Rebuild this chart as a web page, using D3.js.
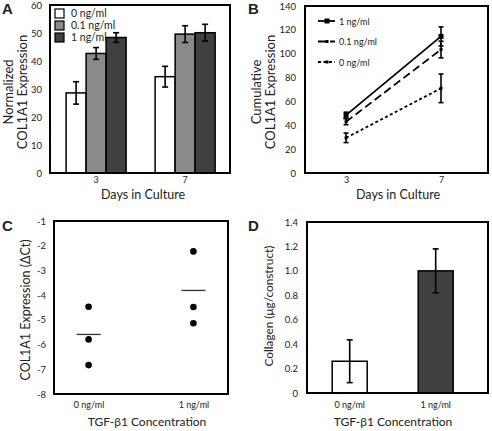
<!DOCTYPE html>
<html><head><meta charset="utf-8">
<script src="https://cdn.jsdelivr.net/npm/d3@7"></script>
<style>body{margin:0;background:#fff}svg{display:block}text{font-family:Lato,"Open Sans",sans-serif;fill:#222}</style>
</head><body><svg id="c" width="492" height="431"></svg>
<script>
// Panel A
const aDays=["3","7"];
const aSeries=["0 ng/ml","0.1 ng/ml","1 ng/ml"];
const aValues=[[28.6,42.7,48.4],[34.4,49.6,50.1]];
const aErrors=[[4.0,2.1,1.7],[3.7,3.0,3.0]];
const aTicks=[0,10,20,30,40,50,60];
// Panel B
const bDays=[3,7];
const bSeries=["1 ng/ml","0.1 ng/ml","0 ng/ml"];
const bValues=[[48.5,114.5],[43,103.5],[29.5,71]];
const bErrors=[[2.5,8],[2.5,7],[4,12]];
const bTicks=[0,20,40,60,80,100,120,140];
// Panel C
const cGroups=["0 ng/ml","1 ng/ml"];
const cPoints=[[-4.47,-5.79,-6.83],[-2.23,-4.48,-5.14]];
const cMeans=[-5.59,-3.81];
const cTicks=[-8,-7,-6,-5,-4,-3,-2,-1];
// Panel D
const dGroups=["0 ng/ml","1 ng/ml"];
const dValues=[0.26,1.0];
const dErrors=[0.175,0.18];
const dTicks=["0","0.2","0.4","0.6","0.8","1.0","1.2","1.4"];

const colors=["#ffffff","#8a8a8a","#404040"];
const svg=d3.select("#c");
const fs=9.5;

function frame(x0,x1,y0,y1){svg.append("rect").attr("x",x0).attr("y",y0).attr("width",x1-x0).attr("height",y1-y0).attr("fill","none").attr("stroke","#000").attr("stroke-width",2);}
function yAxis(scale,ticks,x,fmt){
  const g=svg.append("g").attr("transform",`translate(${x},0)`).call(d3.axisLeft(scale).tickValues(ticks).tickSize(0).tickPadding(4).tickFormat(fmt||(d=>d)));
  g.select(".domain").remove();
  g.selectAll("text").attr("font-size",fs).attr("font-family","Lato,sans-serif").attr("fill","#333");
}
function xAxis(scale,y,fmt,size,pad){
  const g=svg.append("g").attr("transform",`translate(0,${y})`).call(d3.axisBottom(scale).tickSize(0).tickPadding(pad||4).tickFormat(fmt||(d=>d)));
  g.select(".domain").remove();
  g.selectAll("text").attr("font-size",size||9).attr("font-family","Lato,sans-serif").attr("fill","#333");
}
function label(t,x,y,rot,size){svg.append("text").attr("transform",`translate(${x},${y})${rot?" rotate(-90)":""}`).attr("text-anchor","middle").attr("font-size",size||13).text(t);}
function letter(t,x,y){svg.append("text").attr("x",x).attr("y",y).style("font-family","'Liberation Sans',Arial,sans-serif").attr("font-weight","bold").attr("font-size",15).attr("fill","#000").text(t);}
function errbar(x,yTop,yBot,cap){
  svg.append("line").attr("x1",x).attr("x2",x).attr("y1",yTop).attr("y2",yBot).attr("stroke","#000").attr("stroke-width",1.6);
  [yTop,yBot].forEach(y=>svg.append("line").attr("x1",x-cap).attr("x2",x+cap).attr("y1",y).attr("y2",y).attr("stroke","#000").attr("stroke-width",1.6));
}

// ---------- A ----------
{
const x0=d3.scaleBand().domain(aDays).range([50,230]).paddingInner(0.326).paddingOuter(0.174).align(0.52);
const x1=d3.scaleBand().domain(aSeries).range([0,x0.bandwidth()]);
const y=d3.scaleLinear().domain([0,60]).range([173,5]);
aDays.forEach((d,i)=>{
  aSeries.forEach((s,j)=>{
    const bx=x0(d)+x1(s);
    svg.append("rect").attr("x",bx).attr("y",y(aValues[i][j])).attr("width",x1.bandwidth()).attr("height",y(0)-y(aValues[i][j])).attr("fill",colors[j]).attr("stroke","#000").attr("stroke-width",1.5);
  });
});
aDays.forEach((d,i)=>aSeries.forEach((s,j)=>{
  const cx=x0(d)+x1(s)+x1.bandwidth()/2;
  errbar(cx,y(aValues[i][j]+aErrors[i][j]),y(aValues[i][j]-aErrors[i][j]),3);
}));
frame(50,230,5,173);
yAxis(y,aTicks,46);
xAxis(x0,173);
aSeries.forEach((s,j)=>{
  svg.append("rect").attr("x",55).attr("y",9+j*12).attr("width",9).attr("height",9).attr("fill",colors[j]).attr("stroke","#000").attr("stroke-width",1.2);
  svg.append("text").attr("x",71).attr("y",17+j*12).attr("font-size",10.5).text(s);
});
label("Normalized",13,92,true);
label("COL1A1 Expression",27,92,true);
label("Days in Culture",143,199,false,12.5);
letter("A",2,14);
}

// ---------- B ----------
{
const x=d3.scaleLinear().domain([1.27,8.98]).range([305,488]);
const y=d3.scaleLinear().domain([0,140]).range([173,6]);
const dashes=[null,"8,4","3,2.5"];
const line=d3.line().x((d,i)=>x(bDays[i])).y(d=>y(d));
bSeries.forEach((s,j)=>{
  svg.append("path").attr("d",line(bValues[j])).attr("fill","none").attr("stroke","#000").attr("stroke-width",1.8).attr("stroke-dasharray",dashes[j]);
  bValues[j].forEach((v,i)=>{
    errbar(x(bDays[i]),y(v+bErrors[j][i]),y(v-bErrors[j][i]),2.5);
    const sz=j===0?5:3;
    svg.append("rect").attr("x",x(bDays[i])-sz/2).attr("y",y(v)-sz/2).attr("width",sz).attr("height",sz).attr("fill","#000");
  });
  const ly=21+j*20.5;
  svg.append("line").attr("x1",318).attr("x2",335).attr("y1",ly).attr("y2",ly).attr("stroke","#000").attr("stroke-width",1.8).attr("stroke-dasharray",dashes[j]);
  const sz=j===0?5:3;
  svg.append("rect").attr("x",327-sz/2).attr("y",ly-sz/2).attr("width",sz).attr("height",sz).attr("fill","#000");
  svg.append("text").attr("x",339).attr("y",ly+3.5).attr("font-size",9).text(s);
});
frame(305,488,6,173);
yAxis(y,bTicks,300);
const gx=svg.append("g").attr("transform","translate(0,173)").call(d3.axisBottom(x).tickValues(bDays).tickSize(0).tickPadding(4));
gx.select(".domain").remove();
gx.selectAll("text").attr("font-size",9).attr("fill","#333");
label("Cumulative",261,92,true);
label("COL1A1 Expression",275,92,true);
label("Days in Culture",398,199,false,12.5);
letter("B",248,14);
}

// ---------- C ----------
{
const x=d3.scalePoint().domain(cGroups).range([54,228]).padding(0.33);
const y=d3.scaleLinear().domain([-8,-1]).range([394,221]);
cGroups.forEach((g,i)=>{
  cPoints[i].forEach(v=>svg.append("circle").attr("cx",x(g)).attr("cy",y(v)).attr("r",3.3).attr("fill","#000"));
  svg.append("line").attr("x1",x(g)-12).attr("x2",x(g)+12).attr("y1",y(cMeans[i])).attr("y2",y(cMeans[i])).attr("stroke","#333").attr("stroke-width",1.3);
});
frame(54,228,221,394);
yAxis(y,cTicks,50);
xAxis(x,394,null,9,8);
label("COL1A1 Expression (\u0394Ct)",30,310,true,12.5);
label("TGF-\u03b21 Concentration",147,426,false,12);
letter("C",2,231);
}

// ---------- D ----------
{
const x=d3.scaleBand().domain(dGroups).range([307,488]).paddingInner(0.593).paddingOuter(0.349).align(0.42);
const y=d3.scaleLinear().domain([0,1.4]).range([393,222]);
const dCol=["#ffffff","#404040"];
dGroups.forEach((g,i)=>{
  svg.append("rect").attr("x",x(g)).attr("y",y(dValues[i])).attr("width",x.bandwidth()).attr("height",y(0)-y(dValues[i])).attr("fill",dCol[i]).attr("stroke","#000").attr("stroke-width",1.5);
  errbar(x(g)+x.bandwidth()/2,y(dValues[i]+dErrors[i]),y(dValues[i]-dErrors[i]),3);
});
frame(307,488,222,393);
yAxis(y,dTicks.map(Number),302,(d,i)=>dTicks[i]);
xAxis(x,393,null,9,9);
label("Collagen (\u03bcg/construct)",273,306,true,11.8);
label("TGF-\u03b21 Concentration",393,426,false,12);
letter("D",248,231);
}
</script></body></html>
